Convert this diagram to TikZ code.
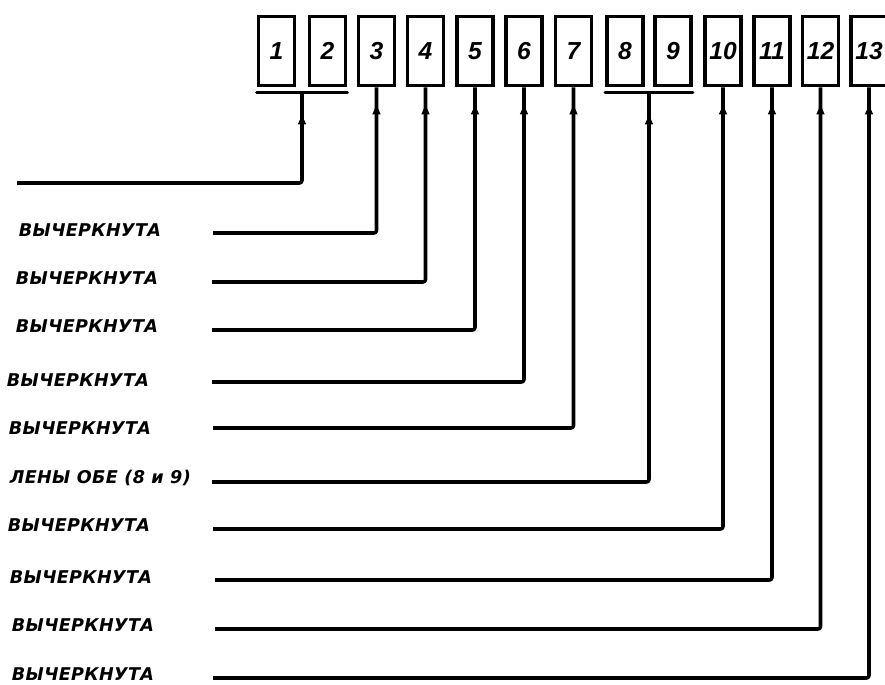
\documentclass[tikz,border=0pt]{standalone}
\usepackage{fontspec}
\newfontfamily\stencilfont[LetterSpace=2]{DejaVu Sans}
\newfontfamily\digitfont{Liberation Sans}
\usetikzlibrary{calc,arrows.meta,decorations.markings}

\tikzset{
    cell/.style={draw, line width=3pt, minimum width=1.08cm, minimum height=2.07cm,
        inner sep=0pt, text height=14pt, text depth=0pt,
        font=\digitfont\bfseries\itshape\fontsize{21}{24}\selectfont},
    wire/.style={line width=3pt, line join=round, rounded corners=2pt,
        postaction={decorate}, decoration={markings,
        mark=at position #1 with {\arrow{Latex[length=0.36cm,width=0.26cm]}}}},
    wire/.default=-0.45cm,
    bar/.style={line width=2.8pt, line cap=round},
    remark/.style={font=\stencilfont\bfseries\itshape\fontsize{15}{17}\selectfont}
}

\begin{document}
\begin{tikzpicture}[x=0.03cm, y=-0.03cm]

    \useasboundingbox (0,0) rectangle (885,685);
    \clip (0,0) rectangle (885,685);

    % Ячейки
    \node[cell] (b1)  at (276.5,51) {1};
    \node[cell] (b2)  at (327.5,51) {2};
    \node[cell] (b3)  at (376.5,51) {3};
    \node[cell] (b4)  at (425.5,51) {4};
    \node[cell] (b5)  at (475,51)   {5};
    \node[cell] (b6)  at (524,51)   {6};
    \node[cell] (b7)  at (573.5,51) {7};
    \node[cell] (b8)  at (625,51)   {8};
    \node[cell] (b9)  at (673,51)   {9};
    \node[cell] (b10) at (723,51)   {10};
    \node[cell] (b11) at (772,51)   {11};
    \node[cell] (b12) at (820.5,51) {12};
    \node[cell] (b13) at (869,51)   {13};

    % Общие черты под парами
    \draw[bar] ([yshift=-0.15cm]b1.south west) -- coordinate (pair1) ([yshift=-0.15cm]b2.south east);
    \draw[bar] ([yshift=-0.15cm]b8.south west) -- coordinate (pair8) ([yshift=-0.15cm]b9.south east);

    \coordinate (in1)  at (17,183);
    \coordinate (in3)  at (213,233);
    \coordinate (in4)  at (212,282);
    \coordinate (in5)  at (212,330);
    \coordinate (in6)  at (212,382);
    \coordinate (in7)  at (213,428);
    \coordinate (in8)  at (212,482);
    \coordinate (in10) at (213,529);
    \coordinate (in11) at (215,580);
    \coordinate (in12) at (215,629);
    \coordinate (in13) at (213,678);

    \draw[wire=-0.6cm] (in1) -| (pair1);
    \draw[wire] (in3)  -| (b3.south);
    \draw[wire] (in4)  -| (b4.south);
    \draw[wire] (in5)  -| (b5.south);
    \draw[wire] (in6)  -| (b6.south);
    \draw[wire] (in7)  -| (b7.south);
    \draw[wire=-0.6cm] (in8) -| (pair8);
    \draw[wire] (in10) -| (b10.south);
    \draw[wire] (in11) -| (b11.south);
    \draw[wire] (in12) -| (b12.south);
    \draw[wire] (in13) -| (b13.south);

    % Надписи
    \node[remark] (t3)  at (90,230) {ВЫЧЕРКНУТА};
    \node[remark] (t4)  at (87,278) {ВЫЧЕРКНУТА};
    \node[remark] (t5)  at (87,326) {ВЫЧЕРКНУТА};
    \node[remark] (t6)  at (78,380) {ВЫЧЕРКНУТА};
    \node[remark] (t7)  at (80,428) {ВЫЧЕРКНУТА};
    \node[remark, anchor=east] (t8) at (195,478) {ЛЕНЫ ОБЕ (8 и 9)};
    \node[remark] (t10) at (79,525) {ВЫЧЕРКНУТА};
    \node[remark] (t11) at (81,577) {ВЫЧЕРКНУТА};
    \node[remark] (t12) at (83,625) {ВЫЧЕРКНУТА};
    \node[remark] (t13) at (83,674) {ВЫЧЕРКНУТА};

\end{tikzpicture}
\end{document}
